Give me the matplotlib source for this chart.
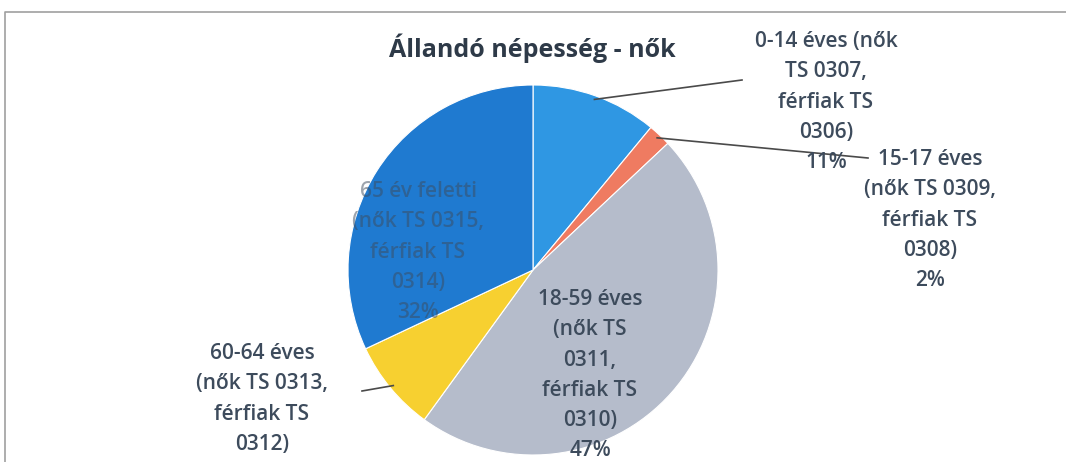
import matplotlib.pyplot as plt
import numpy as np

# data
categories = ["0-14 éves (nők\nTS 0307,\nférfiak TS\n0306)",
              "15-17 éves\n(nők TS 0309,\nférfiak TS\n0308)",
              "18-59 éves\n(nők TS\n0311,\nférfiak TS\n0310)",
              "60-64 éves\n(nők TS 0313,\nférfiak TS\n0312)",
              "65 év feletti\n(nők TS 0315,\nférfiak TS\n0314)"]
shares = [11, 2, 47, 8, 32]
colors = ["#2f97e3", "#ef7b61", "#b5bccb", "#f7d030", "#1f7ad0"]

W, H = 1066, 462
text_color = "#3d4b5c"

fig = plt.figure(figsize=(W / 100, H / 100), dpi=100)
ax = fig.add_axes([0, 0, 1, 1])

cx, cy, r = 533, H - 270, 185

wedges, _ = ax.pie(shares, colors=colors, startangle=90, counterclock=False,
                   center=(cx, cy), radius=r, frame=True,
                   wedgeprops=dict(edgecolor="white", linewidth=0.8))
ax.set_xlim(0, W)
ax.set_ylim(0, H)
ax.set_aspect("equal")
ax.axis("off")

# chart border (cut off at right/bottom)
ax.plot([5, 5, W], [0, H - 12, H - 12], color="#a0a0a0", lw=1.2, clip_on=False)

ax.text(532, H - 48, "Állandó népesség - nők", ha="center", va="center",
        fontsize=18, fontweight="bold", color="#2e3a48", family="Open Sans")

def edge_point(w, frac=1.0):
    ang = np.deg2rad((w.theta1 + w.theta2) / 2)
    return cx + r * frac * np.cos(ang), cy + r * frac * np.sin(ang)

# first-line centre of each label (pixel coords) and leader line ends
label_pos = [(826, 40), (930, 158), (590, 298), (262, 352), (418, 190)]
leader_end = [(742, 80), (868, 158), None, (362, 391), None]
label_alpha = [1, 1, 1, 1, 0.5]

for i, (lab, val) in enumerate(zip(categories, shares)):
    x, y = label_pos[i]
    # the 60-64 percentage sits below the visible area, as in the source
    txt = f"{lab}\n{val}%" if i != 3 else lab
    ax.text(x, H - y + 9, txt, ha="center", va="top", fontsize=15,
            color=text_color, family="Open Sans", fontweight="semibold",
            linespacing=1.58, alpha=label_alpha[i])
    if leader_end[i] is not None:
        ex, ey = edge_point(wedges[i], 0.98)
        lx, ly = leader_end[i]
        ax.plot([ex, lx], [ey, H - ly], color="#4a4a4a", lw=1.2)

fig.savefig("out.png", dpi=100, facecolor="white")
